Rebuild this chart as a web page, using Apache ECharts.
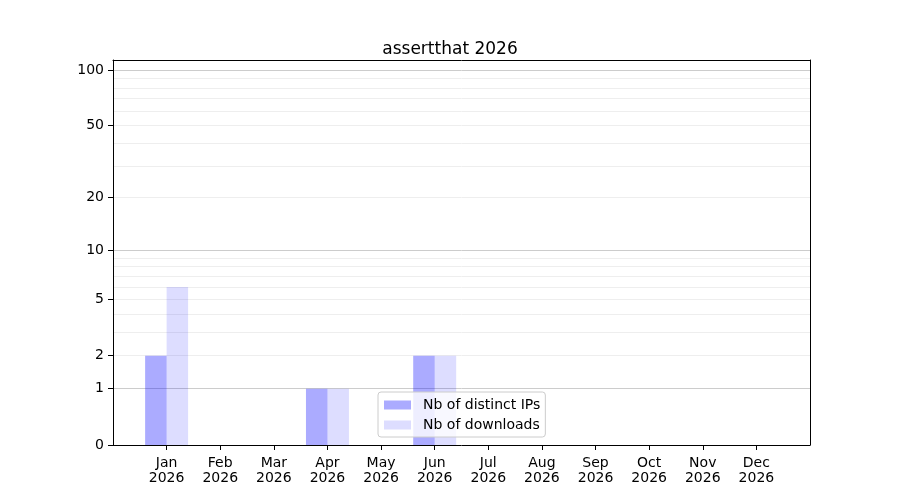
<!DOCTYPE html>
<html>
<head>
<meta charset="utf-8">
<script src="https://cdn.jsdelivr.net/npm/echarts@6/dist/echarts.min.js"></script>
<style>
  html, body { margin: 0; padding: 0; background: #fff; }
  #main { width: 900px; height: 500px; }
</style>
</head>
<body>
<div id="main"></div>
<script>
// données
var titleText = 'assertthat 2026';
var months = ['Jan', 'Feb', 'Mar', 'Apr', 'May', 'Jun', 'Jul', 'Aug', 'Sep', 'Oct', 'Nov', 'Dec'];
var year = '2026';
var distinctIps = [2, 0, 0, 1, 0, 2, 0, 0, 0, 0, 0, 0];
var downloads = [6, 0, 0, 1, 0, 2, 0, 0, 0, 0, 0, 0];
var yTickLabels = [0, 1, 2, 5, 10, 20, 50, 100];
var majorGrid = [1, 10, 100];
var minorGrid = [2, 3, 4, 5, 6, 7, 8, 9, 20, 30, 40, 50, 60, 70, 80, 90];
var yTop = 113.2;

// échelle log(1+x)
function T(v) { return Math.log10(1 + v); }
function invT(t) { return Math.round(Math.pow(10, t) - 1); }

// catégories avec une case vide de chaque côté (marges)
var cats = [''].concat(months.map(function (m) { return m + '\n' + year; })).concat(['']);
function pad(arr) { return [null].concat(arr.map(T)).concat([null]); }

var font = 'DejaVu Sans';
var plotW = 900 - 113 - 90;

// axe invisible qui ne sert qu'à tracer une grille (ticks internes sur toute la largeur)
function gridAxis(values, color, z) {
    return {
        type: 'value', min: 0, max: T(yTop), position: 'left', z: z,
        axisLine: { show: false },
        axisLabel: { show: false },
        splitLine: { show: false },
        axisTick: {
            show: true, inside: true, length: plotW,
            lineStyle: { color: color, width: 1 },
            customValues: values.map(T)
        }
    };
}

// axe vide, juste pour le cadre
function frameAxis(type, pos) {
    var ax = {
        type: type, position: pos, z: 5,
        axisLine: { show: true, onZero: false, lineStyle: { color: '#000' } },
        axisTick: { show: false },
        axisLabel: { show: false },
        splitLine: { show: false }
    };
    if (type === 'category') { ax.data = cats; ax.boundaryGap = false; }
    else { ax.min = 0; ax.max = T(yTop); }
    return ax;
}

var chart = echarts.init(document.getElementById('main'));
chart.setOption({
    animation: false,
    backgroundColor: '#fff',
    title: {
        text: titleText,
        left: 'center',
        top: 36,
        textStyle: { fontFamily: font, fontSize: 17, fontWeight: 'normal', color: '#000' }
    },
    grid: { left: 113, right: 90, top: 60, bottom: 55 },
    legend: {
        orient: 'vertical',
        left: 378,
        top: 392,
        z: 10,
        backgroundColor: 'rgba(255,255,255,0.8)',
        borderColor: '#cccccc',
        borderWidth: 1,
        borderRadius: 3,
        padding: [6, 5, 5, 6],
        itemGap: 6,
        itemWidth: 27,
        itemHeight: 9,
        icon: 'rect',
        textStyle: { fontFamily: font, fontSize: 14, color: '#000', padding: [0, 0, 0, 7] },
        data: ['Nb of distinct IPs', 'Nb of downloads']
    },
    xAxis: [
        {
            type: 'category',
            data: cats,
            boundaryGap: false,
            z: 5,
            axisLine: { show: true, onZero: false, lineStyle: { color: '#000' } },
            axisTick: {
                show: true, length: 5, lineStyle: { color: '#000' },
                interval: function (i) { return i > 0 && i < cats.length - 1; }
            },
            axisLabel: {
                interval: 0, margin: 11, color: '#000',
                fontFamily: font, fontSize: 14, lineHeight: 15
            },
            splitLine: { show: false }
        },
        frameAxis('category', 'top')
    ],
    yAxis: [
        {
            type: 'value',
            min: 0,
            max: T(yTop),
            z: 5,
            axisLine: { show: true, onZero: false, lineStyle: { color: '#000' } },
            axisTick: {
                show: true, length: 5, lineStyle: { color: '#000' },
                customValues: yTickLabels.map(T)
            },
            axisLabel: {
                margin: 9, color: '#000', fontFamily: font, fontSize: 14,
                customValues: yTickLabels.map(T),
                formatter: function (t) { return String(invT(t)); }
            },
            splitLine: { show: false }
        },
        gridAxis(minorGrid, '#eeeeee', 0),
        gridAxis(majorGrid, '#cccccc', 1),
        frameAxis('value', 'right')
    ],
    series: [
        {
            name: 'Nb of distinct IPs',
            type: 'bar',
            data: pad(distinctIps),
            barWidth: 21.5,
            barGap: '0%',
            itemStyle: { color: 'rgba(0,0,255,0.33)' }
        },
        {
            name: 'Nb of downloads',
            type: 'bar',
            data: pad(downloads),
            barWidth: 21.5,
            barGap: '0%',
            itemStyle: { color: 'rgba(0,0,255,0.133)' }
        }
    ]
});
</script>
</body>
</html>
